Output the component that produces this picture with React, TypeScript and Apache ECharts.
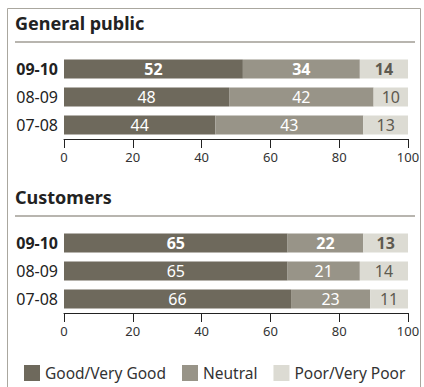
import React, { useEffect, useRef } from "react";
import * as echarts from "echarts";

const categories = ["09-10", "08-09", "07-08"];
const seriesNames = ["Good/Very Good", "Neutral", "Poor/Very Poor"];
const publicGood = [52, 48, 44];
const publicNeutral = [34, 42, 43];
const publicPoor = [14, 10, 13];
const customerGood = [65, 65, 66];
const customerNeutral = [22, 21, 23];
const customerPoor = [13, 14, 11];
const panelTitles = ["General public", "Customers"];

const COLORS = ["#6e695c", "#989488", "#dcdbd3"];
const LABEL_COLORS = ["#ffffff", "#ffffff", "#5e5a50"];
const FONT = "Noto Sans";

export default function App() {
  const ref = useRef<HTMLDivElement>(null);
  useEffect(() => {
    if (!ref.current) return;
    const chart = echarts.init(ref.current, undefined, { renderer: "svg" });
    const panels = [
      [publicGood, publicNeutral, publicPoor],
      [customerGood, customerNeutral, customerPoor],
    ];
    const series: any[] = [];
    panels.forEach((panel, p) => {
      panel.forEach((vals, s) => {
        series.push({
          type: "bar",
          name: seriesNames[s],
          stack: "panel" + p,
          xAxisIndex: p,
          yAxisIndex: p,
          barWidth: 19,
          itemStyle: { color: COLORS[s] },
          label: {
            show: true,
            position: "inside",
            color: LABEL_COLORS[s],
            fontSize: 16,
            fontFamily: FONT,
          },
          data: vals.map((v, i) => ({
            value: v,
            label: { fontWeight: i === 0 ? "bold" : "normal" },
          })),
        });
      });
    });
    const grids = [
      { left: 64, width: 344, top: 55, height: 84 },
      { left: 64, width: 344, top: 229, height: 84 },
    ];
    const xAxes = grids.map((_, i) => ({
      type: "value",
      gridIndex: i,
      min: 0,
      max: 100,
      interval: 20,
      splitLine: { show: false },
      axisLine: { show: true, lineStyle: { color: "#222", width: 1 } },
      axisTick: { show: true, length: 9, lineStyle: { color: "#222" } },
      axisLabel: { color: "#333", fontSize: 13, fontFamily: FONT, margin: 11 },
    }));
    const yAxes = grids.map((_, i) => ({
      type: "category",
      gridIndex: i,
      inverse: true,
      data: categories.map((c, j) => ({
        value: c,
        textStyle: { fontWeight: j === 0 ? "bold" : "normal" },
      })),
      axisLine: { show: false },
      axisTick: { show: false },
      axisLabel: { color: "#222", fontSize: 16, fontFamily: FONT, margin: 6 },
    }));
    chart.setOption({
      animation: false,
      textStyle: { fontFamily: FONT },
      grid: grids,
      xAxis: xAxes,
      yAxis: yAxes,
      series,
      legend: {
        data: seriesNames,
        left: 19,
        top: 360,
        width: 405,
        padding: 5,
        itemWidth: 16,
        itemHeight: 16,
        itemGap: 16,
        icon: "rect",
        textStyle: { fontSize: 15.5, color: "#333", fontFamily: FONT },
        selectedMode: false,
      },
      graphic: [
        {
          type: "rect",
          shape: { x: 7.5, y: 8.5, width: 413, height: 400 },
          style: { fill: "none", stroke: "#aaa79f", lineWidth: 1 },
          silent: true,
        },
        {
          type: "text",
          left: 15,
          top: 14,
          style: { text: panelTitles[0], fontSize: 18, fontWeight: "bold", fill: "#222", fontFamily: FONT },
        },
        {
          type: "line",
          shape: { x1: 15, y1: 42, x2: 415, y2: 42 },
          style: { stroke: "#a09c94", lineWidth: 1.5 },
        },
        {
          type: "text",
          left: 15,
          top: 188,
          style: { text: panelTitles[1], fontSize: 18, fontWeight: "bold", fill: "#222", fontFamily: FONT },
        },
        {
          type: "line",
          shape: { x1: 15, y1: 216, x2: 415, y2: 216 },
          style: { stroke: "#a09c94", lineWidth: 1.5 },
        },
      ],
    });
    return () => chart.dispose();
  }, []);
  return (
    <div
      ref={ref}
      style={{ position: "absolute", left: 0, top: 0, width: 424, height: 387, background: "#fff" }}
    />
  );
}
